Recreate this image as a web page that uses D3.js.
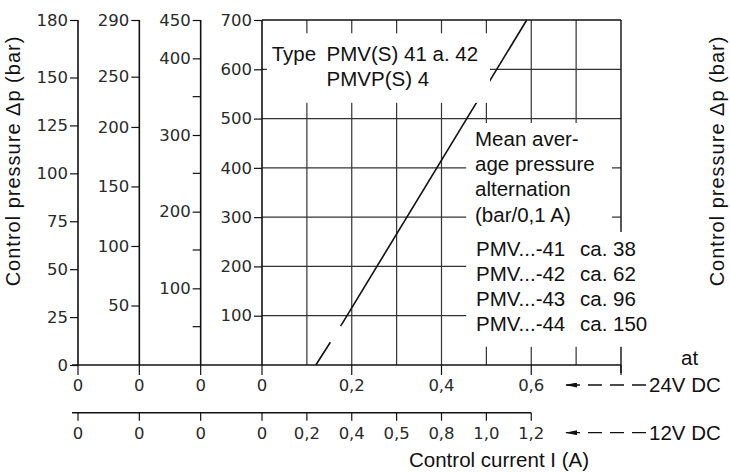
<!DOCTYPE html>
<html>
<head>
<meta charset="utf-8">
<script src="https://cdn.jsdelivr.net/npm/d3@7"></script>
<style>
  body { margin: 0; background: #fff; }
  svg { display: block; }
  .tick-lbl { font-family: "DejaVu Sans", sans-serif; font-size: 16.5px; fill: #2a2a2a; }
  .note { font-family: "Liberation Sans", Arial, sans-serif; font-size: 20.5px; fill: #111; }
  .title { font-family: "Liberation Sans", Arial, sans-serif; font-size: 20px; fill: #111; letter-spacing: 1px; }
</style>
</head>
<body>
<div id="chart"></div>
<script>
// pressure scales of the four valve sizes (bar), one axis per size
let ticks41 = [0, 25, 50, 75, 100, 125, 150, 180];
let ticks42 = [50, 100, 150, 200, 250, 290];
let ticks43Major = [100, 200, 300, 400, 450];
let ticks43Minor = [50, 150, 250, 350];
let ticks44 = [100, 200, 300, 400, 500, 600, 700];

// control current at 24V DC (A)
let current24Ticks = [0, 0.2, 0.4, 0.6];
let current24Labels = ["0", "0,2", "0,4", "0,6"];
let gridCurrents = [0.1, 0.2, 0.3, 0.4, 0.5, 0.6, 0.7];
let gridPressures = [100, 200, 300, 400, 500, 600];

// 12V DC scale, printed under the 24V grid positions
let current12Pos = [0.1, 0.2, 0.3, 0.4, 0.5, 0.6];
let current12Labels = ["0,2", "0,4", "0,5", "0,8", "1,0", "1,2"];

// characteristic line: current (A) vs pressure of PMV...-44 (bar)
let curveDashed = [{ i: 0.12, p: 0 }, { i: 0.1766, p: 81 }];
let curveSolid = [{ i: 0.1766, p: 81 }, { i: 0.59, p: 700 }];

let sizes = ["41", "42", "43", "44"];
let meanText = ["Mean aver-", "age pressure", "alternation", "(bar/0,1 A)"];
let meanRows = [["PMV...-41", "ca. 38"], ["PMV...-42", "ca. 62"], ["PMV...-43", "ca. 96"], ["PMV...-44", "ca. 150"]];

let width = 730, height = 472;

let svg = d3.select("#chart").append("svg")
            .attr("width", width)
            .attr("height", height);

let axisX = d3.scalePoint().domain(sizes).range([78, 262]);
let x = d3.scaleLinear().domain([0, 0.8]).range([262, 621]);
let y = d3.scaleLinear().domain([0, 700]).range([365, 20]);
let y41 = d3.scaleLinear().domain([0, 180]).range([y(0), y(700)]);
// the printed -42 scale is not evenly spaced above 200 bar
let y42 = d3.scaleLinear().domain([0, 200, 250, 290]).range([y(0), y(483), y(585), y(700)]);
let y43 = d3.scaleLinear().domain([0, 450]).range([y(0), y(700)]);

let tickLen = 8;

// grid
let grid = svg.append("g").attr("stroke", "#333").attr("stroke-width", 1.2);
grid.selectAll(".vgrid")
    .data(gridCurrents)
    .enter()
    .append("line")
    .attr("x1", d => x(d)).attr("x2", d => x(d))
    .attr("y1", y(0)).attr("y2", y(700));
grid.selectAll(".hgrid")
    .data(gridPressures)
    .enter()
    .append("line")
    .attr("x1", x(0)).attr("x2", x(0.8))
    .attr("y1", d => y(d)).attr("y2", d => y(d));

// frame: top and right edge
svg.append("line").attr("x1", x(0)).attr("x2", x(0.8)).attr("y1", y(700)).attr("y2", y(700))
   .attr("stroke", "#111").attr("stroke-width", 1.4);
svg.append("line").attr("x1", x(0.8)).attr("x2", x(0.8)).attr("y1", y(700)).attr("y2", y(0) + tickLen)
   .attr("stroke", "#111").attr("stroke-width", 1.4);

// the characteristic
let line = d3.line().x(d => x(d.i)).y(d => y(d.p));
svg.append("path").datum(curveDashed).attr("d", line)
   .attr("fill", "none").attr("stroke", "#111").attr("stroke-width", 1.6)
   .attr("stroke-dasharray", "27,19");
svg.append("path").datum(curveSolid).attr("d", line)
   .attr("fill", "none").attr("stroke", "#111").attr("stroke-width", 1.6);

// white patches behind the notes
svg.append("rect")
   .attr("x", x(0.011)).attr("y", y(673))
   .attr("width", x(0.508) - x(0.011)).attr("height", y(532) - y(673))
   .attr("fill", "#fff");
svg.append("rect")
   .attr("x", x(0.455)).attr("y", y(491))
   .attr("width", x(0.78) - x(0.455)).attr("height", y(270) - y(491))
   .attr("fill", "#fff");
svg.append("rect")
   .attr("x", x(0.455)).attr("y", y(270))
   .attr("width", 200).attr("height", y(37) - y(270))
   .attr("fill", "#fff");

// vertical pressure axes
function drawAxis(scale, xPos, ticks, labels, minor) {
  let g = svg.append("g")
             .attr("transform", "translate(" + xPos + ",0)")
             .call(d3.axisLeft(scale).tickValues(ticks).tickSize(tickLen).tickPadding(2)
                     .tickFormat(labels ? d => d : ""));
  g.select(".domain").attr("stroke", "#111").attr("stroke-width", 1.6)
   .attr("d", "M0," + y(700) + "V" + y(0));
  g.selectAll(".tick line").attr("stroke", "#111").attr("stroke-width", 1.2);
  g.selectAll(".tick text").attr("class", "tick-lbl").attr("font-family", null).attr("font-size", null);
  if (minor) {
    g.selectAll(".minor")
     .data(minor)
     .enter()
     .append("line")
     .attr("x1", -tickLen).attr("x2", 0)
     .attr("y1", d => scale(d)).attr("y2", d => scale(d))
     .attr("stroke", "#111").attr("stroke-width", 1.2);
  }
}
drawAxis(y41, axisX("41"), ticks41, true);
drawAxis(y42, axisX("42"), ticks42, true);
drawAxis(y43, axisX("43"), ticks43Major, true, ticks43Minor);
drawAxis(y, axisX("44"), ticks44, true);

// 24V current axis (baseline)
let base = svg.append("g");
base.append("line").attr("x1", axisX("41") - 6).attr("x2", x(0.8)).attr("y1", y(0)).attr("y2", y(0))
    .attr("stroke", "#111").attr("stroke-width", 1.6);
let zeroTicks = sizes.slice(0, 3).map(s => axisX(s));
let tick24 = zeroTicks.concat(current24Ticks.map(d => x(d)));
let lbl24 = ["0", "0", "0"].concat(current24Labels);
base.selectAll(".t24")
    .data(tick24.concat([x(0.8)]))
    .enter()
    .append("line")
    .attr("x1", d => d).attr("x2", d => d)
    .attr("y1", y(0)).attr("y2", y(0) + tickLen + 2)
    .attr("stroke", "#111").attr("stroke-width", 1.2);
base.selectAll(".l24")
    .data(tick24)
    .enter()
    .append("text")
    .attr("class", "tick-lbl")
    .attr("x", d => d)
    .attr("y", y(0) + 26)
    .attr("text-anchor", "middle")
    .text((d, k) => lbl24[k]);

// 12V current axis
let y12 = 412.7;
let axis12 = svg.append("g");
axis12.append("line").attr("x1", axisX("41") - 6).attr("x2", x(0.6)).attr("y1", y12).attr("y2", y12)
      .attr("stroke", "#111").attr("stroke-width", 1.6);
let tick12 = zeroTicks.concat([x(0)]).concat(current12Pos.map(d => x(d)));
let lbl12 = ["0", "0", "0", "0"].concat(current12Labels);
axis12.selectAll(".t12")
      .data(tick12)
      .enter()
      .append("line")
      .attr("x1", d => d).attr("x2", d => d)
      .attr("y1", y12).attr("y2", y12 + tickLen)
      .attr("stroke", "#111").attr("stroke-width", 1.2);
axis12.selectAll(".l12")
      .data(tick12)
      .enter()
      .append("text")
      .attr("class", "tick-lbl")
      .attr("x", d => d)
      .attr("y", y12 + 26)
      .attr("text-anchor", "middle")
      .text((d, k) => lbl12[k]);

// arrows pointing at the current scales
svg.append("defs").append("marker")
   .attr("id", "head")
   .attr("viewBox", "0 0 12 5")
   .attr("refX", 12).attr("refY", 2.5)
   .attr("markerWidth", 12).attr("markerHeight", 5)
   .attr("markerUnits", "userSpaceOnUse")
   .attr("orient", "auto")
   .append("path").attr("d", "M0,0L12,2.5L0,5Z").attr("fill", "#111");

[[y(0) + 20, "24V DC"], [y12 + 20, "12V DC"]].forEach(a => {
  svg.append("line")
     .attr("x1", 646).attr("x2", 565)
     .attr("y1", a[0]).attr("y2", a[0])
     .attr("stroke", "#111").attr("stroke-width", 1.3)
     .attr("stroke-dasharray", "14,8")
     .attr("marker-end", "url(#head)");
  svg.append("text").attr("class", "note")
     .attr("x", 649).attr("y", a[0] + 7)
     .text(a[1]);
});
svg.append("text").attr("class", "note")
   .attr("x", 681).attr("y", y(0))
   .text("at");

// notes inside the grid
svg.append("text").attr("class", "note")
   .attr("x", x(0.0216)).attr("y", y(617))
   .text("Type");
svg.append("text").attr("class", "note")
   .attr("x", x(0.144)).attr("y", y(617))
   .text("PMV(S) 41 a. 42");
svg.append("text").attr("class", "note")
   .attr("x", x(0.144)).attr("y", y(566))
   .text("PMVP(S) 4");

svg.selectAll(".mean")
   .data(meanText)
   .enter()
   .append("text")
   .attr("class", "note")
   .attr("x", 475)
   .attr("y", (d, k) => 145.7 + k * 25.3)
   .text(d => d);
meanRows.forEach((r, k) => {
  svg.append("text").attr("class", "note")
     .attr("x", 476).attr("y", 256 + k * 24.9).text(r[0]);
  svg.append("text").attr("class", "note")
     .attr("x", 580).attr("y", 256 + k * 24.9).text(r[1]);
});

// axis titles
svg.append("text").attr("class", "title")
   .attr("transform", "translate(20,161) rotate(-90)")
   .attr("text-anchor", "middle")
   .text("Control pressure \u0394p (bar)");
svg.append("text").attr("class", "title")
   .attr("transform", "translate(724,161) rotate(-90)")
   .attr("text-anchor", "middle")
   .text("Control pressure \u0394p (bar)");
svg.append("text").attr("class", "note")
   .attr("x", 499).attr("y", 467)
   .attr("text-anchor", "middle")
   .text("Control current I (A)");
</script>
</body>
</html>
